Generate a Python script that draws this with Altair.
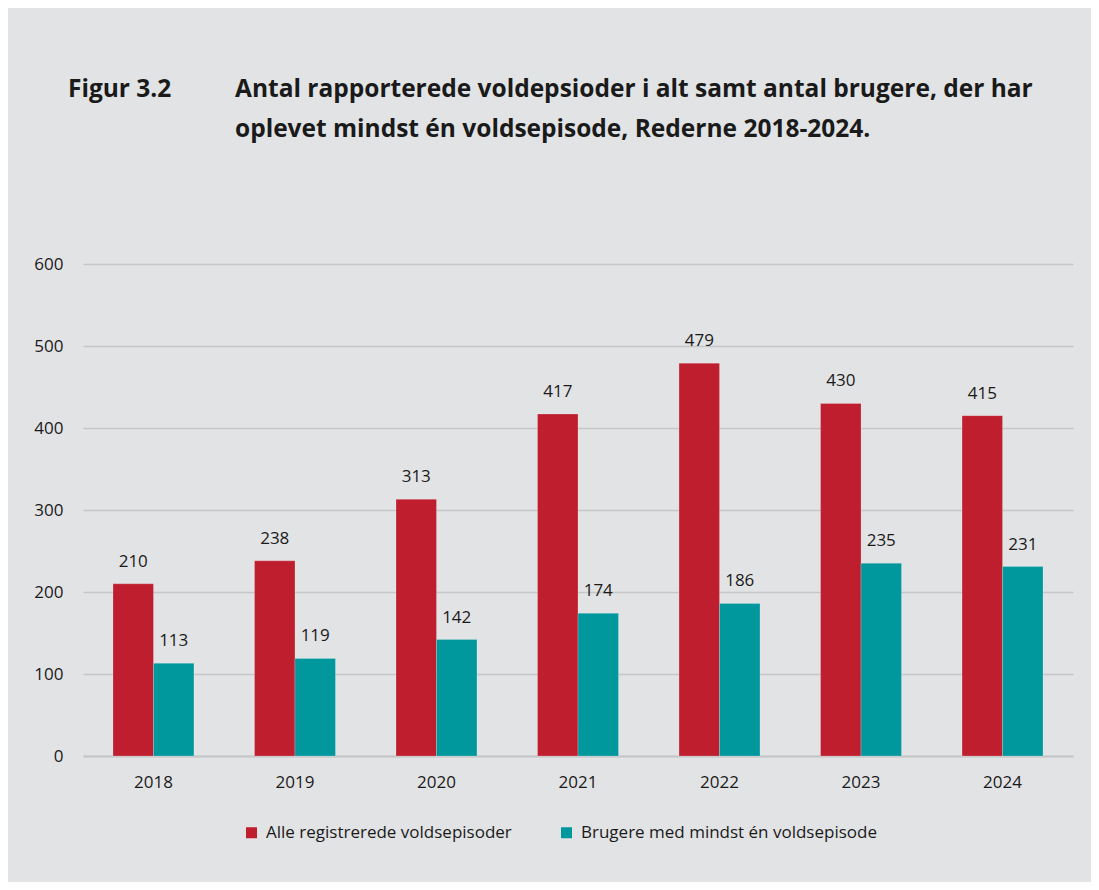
import altair as alt
import pandas as pd

# ---- data ----
years = ["2018", "2019", "2020", "2021", "2022", "2023", "2024"]
alle = [210, 238, 313, 417, 479, 430, 415]
brugere = [113, 119, 142, 174, 186, 235, 231]
series_names = ["Alle registrerede voldsepisoder", "Brugere med mindst én voldsepisode"]
series_colors = ["#be1e2d", "#00979d"]
y_ticks = [0, 100, 200, 300, 400, 500, 600]
figure_label = "Figur 3.2"
title_lines = [
    "Antal rapporterede voldepsioder i alt samt antal brugere, der har",
    "oplevet mindst én voldsepisode, Rederne 2018-2024.",
]

rows = []
for i, yr in enumerate(years):
    rows.append({"year": yr, "series": series_names[0], "value": alle[i]})
    rows.append({"year": yr, "series": series_names[1], "value": brugere[i]})
df = pd.DataFrame(rows)

FONT = "Open Sans"
TXT = "#1a1a1a"
GRID = "#c6c6c8"

x_enc = alt.X(
    "year:N",
    sort=years,
    scale=alt.Scale(paddingInner=0.428, paddingOuter=0.212, align=0.5),
    axis=alt.Axis(
        title=None, labelAngle=0, labelFont=FONT, labelFontSize=17,
        labelColor=TXT, labelPadding=18, domain=True, domainColor=GRID,
        domainWidth=2, ticks=False, grid=False,
    ),
)
xo_enc = alt.XOffset("series:N", sort=series_names, scale=alt.Scale(paddingInner=0, paddingOuter=0))
y_enc = alt.Y(
    "value:Q",
    scale=alt.Scale(domain=[0, 600], nice=False),
    axis=alt.Axis(
        title=None, values=y_ticks, grid=True, gridColor=GRID, gridWidth=1.3,
        domain=False, ticks=False, labelFont=FONT, labelFontSize=17,
        labelColor=TXT, labelPadding=20,
    ),
)

base = alt.Chart(df)

bars = base.mark_bar(stroke="#ffffff", strokeOpacity=0.25, strokeWidth=0.8).encode(
    x=x_enc,
    xOffset=xo_enc,
    y=y_enc,
    color=alt.Color(
        "series:N",
        sort=series_names,
        scale=alt.Scale(domain=series_names, range=series_colors),
        legend=alt.Legend(
            orient="none", legendX=160, legendY=560, direction="horizontal",
            title=None, symbolType="square", symbolSize=121, symbolStrokeWidth=0,
            labelFont=FONT, labelFontSize=17, labelColor=TXT, labelOffset=6,
            labelLimit=0, columnPadding=46, padding=0,
        ),
    ),
)

labels = base.mark_text(
    baseline="alphabetic", dy=-17, font=FONT, fontSize=17, color=TXT
).encode(
    x=alt.X("year:N", sort=years),
    xOffset=alt.XOffset("series:N", sort=series_names),
    y=alt.Y("value:Q"),
    text=alt.Text("value:Q"),
)

fig_label = alt.Chart(pd.DataFrame({"t": [figure_label]})).mark_text(
    align="left", baseline="alphabetic", font=FONT, fontSize=24.5,
    fontWeight="bold", color=TXT,
).encode(text="t:N", x=alt.value(-15), y=alt.value(-167))

title_text = alt.Chart(pd.DataFrame({"t": ["\n".join(title_lines)]})).mark_text(
    align="left", baseline="alphabetic", font=FONT, fontSize=24.5,
    fontWeight="bold", color=TXT, lineBreak="\n", lineHeight=40,
).encode(text="t:N", x=alt.value(152), y=alt.value(-167))

chart = (
    alt.layer(bars, labels, fig_label, title_text)
    .properties(
        width=990,
        height=492,
        padding={"left": 75, "top": 256, "right": 18, "bottom": 126},
        autosize=alt.AutoSizeParams(type="none"),
        background="#e2e3e5",
    )
    .configure_view(stroke=None)
)

chart.save("out.html", embed_options={"renderer": "svg", "actions": False})
